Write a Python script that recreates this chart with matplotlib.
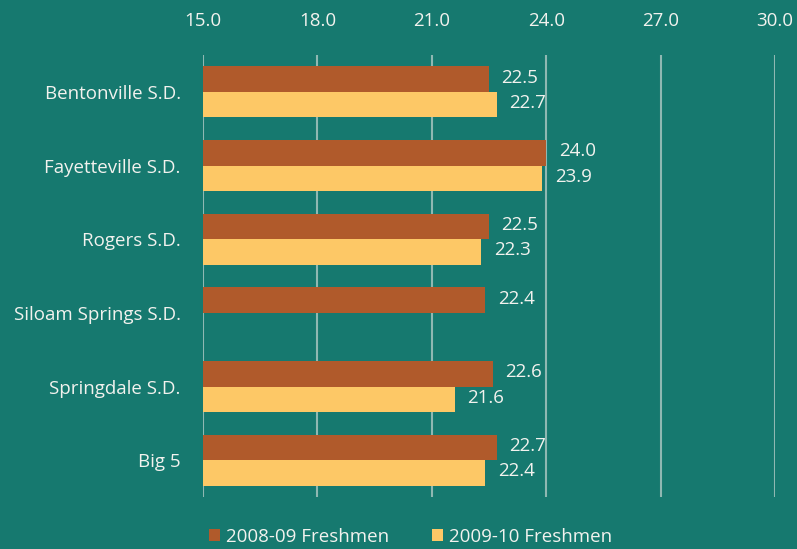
import numpy as np
import matplotlib.pyplot as plt

plt.rcParams['font.family'] = ['Open Sans', 'DejaVu Sans']

districts = ['Bentonville S.D.', 'Fayetteville S.D.', 'Rogers S.D.',
             'Siloam Springs S.D.', 'Springdale S.D.', 'Big 5']
fresh_0809 = [22.5, 24.0, 22.5, 22.4, 22.6, 22.7]
fresh_0910 = [22.7, 23.9, 22.3, np.nan, 21.6, 22.4]
series_names = ['2008-09 Freshmen', '2009-10 Freshmen']
xticks = [15.0, 18.0, 21.0, 24.0, 27.0, 30.0]

bg = '#16796f'
brown = '#b05a2b'
yellow = '#fdc866'
txt = '#f2f2ee'
fs = 13.5

fig = plt.figure(figsize=(7.97, 5.49), dpi=100, facecolor=bg)
ax = fig.add_axes([0.2547, 0.0947, 0.7176, 0.8051], facecolor=bg)

y = np.arange(len(districts))
h = 0.345
b1 = ax.barh(y - h / 2, fresh_0809, height=h, color=brown, label=series_names[0], zorder=3)
b2 = ax.barh(y + h / 2, fresh_0910, height=h, color=yellow, label=series_names[1], zorder=3)

for bars, vals in [(b1, fresh_0809), (b2, fresh_0910)]:
    for rect, v in zip(bars, vals):
        if np.isnan(v):
            continue
        ax.annotate('%.1f' % v, (v, rect.get_y() + rect.get_height() / 2),
                    xytext=(9, 1), textcoords='offset points',
                    ha='left', va='center', color=txt, fontsize=fs)

ax.set_xlim(15, 30)
ax.set_ylim(5.5, -0.5)
ax.set_xticks(xticks)
ax.set_xticklabels(['%.1f' % t for t in xticks])
ax.xaxis.tick_top()
ax.tick_params(axis='x', length=0, pad=18, colors=txt, labelsize=fs)
ax.set_yticks(y)
ax.set_yticklabels(districts)
ax.tick_params(axis='y', length=0, pad=16, colors=txt, labelsize=fs)
ax.grid(axis='x', color='#8fb8b2', lw=1.5, zorder=1)
for s in ax.spines.values():
    s.set_visible(False)

fig.legend(loc='lower center', bbox_to_anchor=(0.515, -0.025), ncol=2, frameon=False,
           labelcolor=txt, fontsize=fs, handlelength=0.6, handleheight=0.6,
           handletextpad=0.3, columnspacing=2.3)

plt.savefig('out.png', dpi=100, facecolor=bg)
